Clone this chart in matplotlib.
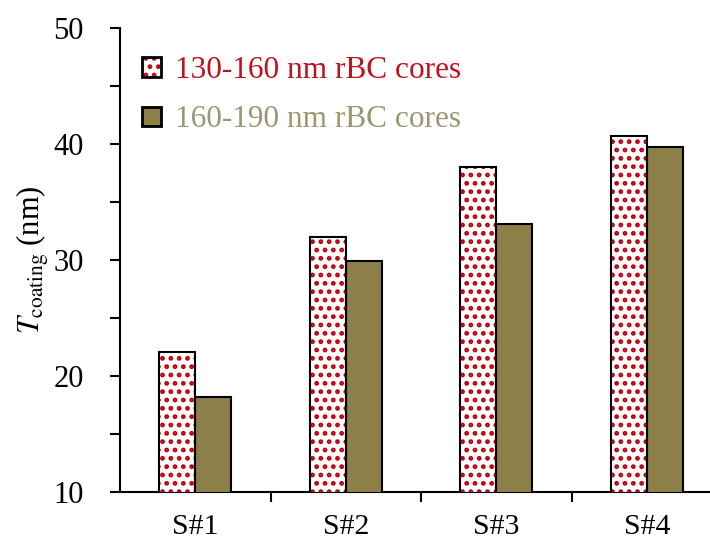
import matplotlib
matplotlib.use("Agg")
import matplotlib.pyplot as plt
from matplotlib.patches import Patch
import numpy as np

samples = ["S#1", "S#2", "S#3", "S#4"]
small_cores = [22.1, 32.0, 38.0, 40.7]
large_cores = [18.2, 29.9, 33.1, 39.7]

plt.rcParams["font.family"] = ["Liberation Serif", "DejaVu Serif"]
plt.rcParams["mathtext.fontset"] = "stix"
plt.rcParams["hatch.linewidth"] = 2.2

red = "#c00010"
olive = "#8c8048"

fig = plt.figure(figsize=(7.1, 5.42), dpi=100)
ax = fig.add_axes([120 / 710, 50 / 542, 602 / 710, 464 / 542])

x = np.arange(len(samples))
w = 0.24
# dotted fill first (hatch takes the edge colour), black outline on top
ax.bar(x - w / 2, small_cores, w, color="white", edgecolor=red,
       linewidth=0, hatch="..", zorder=3)
ax.bar(x - w / 2, small_cores, w, fill=False, edgecolor="black",
       linewidth=1.5, zorder=4)
ax.bar(x + w / 2, large_cores, w, color=olive, edgecolor="black",
       linewidth=1.5, zorder=3)

ax.set_ylim(10, 50)
ax.set_xlim(-0.5, 3.5)
ax.set_yticks([10, 20, 30, 40, 50])
ax.set_yticks([15, 25, 35, 45], minor=True)
ax.set_xticks(x)
ax.set_xticklabels(samples)
ax.set_xticks([0.5, 1.5, 2.5], minor=True)
ax.tick_params(axis="x", which="major", length=0, pad=16, labelsize=21.5)
ax.tick_params(axis="x", which="minor", length=7, width=1.5, direction="out")
ax.tick_params(axis="y", which="both", length=7, width=1.5, direction="out",
               labelsize=22, pad=19)
for s in ["top", "right"]:
    ax.spines[s].set_visible(False)
for s in ["left", "bottom"]:
    ax.spines[s].set_linewidth(1.5)

ax.set_ylabel(r"$T_{\mathrm{coating}}$" + " (nm)", fontsize=22, labelpad=2)

h_small = (Patch(facecolor="white", edgecolor=red, linewidth=0, hatch=".."),
           Patch(fill=False, edgecolor="black", linewidth=2))
h_large = Patch(facecolor=olive, edgecolor="black", linewidth=2)
leg = ax.legend([h_small, h_large], ["130-160 nm rBC cores", "160-190 nm rBC cores"],
                loc="upper left", frameon=False, fontsize=22.5, handlelength=0.6,
                handleheight=0.6, handletextpad=0.45, labelspacing=0.65,
                bbox_to_anchor=(-0.01, 1.0), borderaxespad=0.5)
leg.get_texts()[0].set_color("#c0101e")
leg.get_texts()[1].set_color("#9a9670")

fig.savefig("out.png", dpi=100)
